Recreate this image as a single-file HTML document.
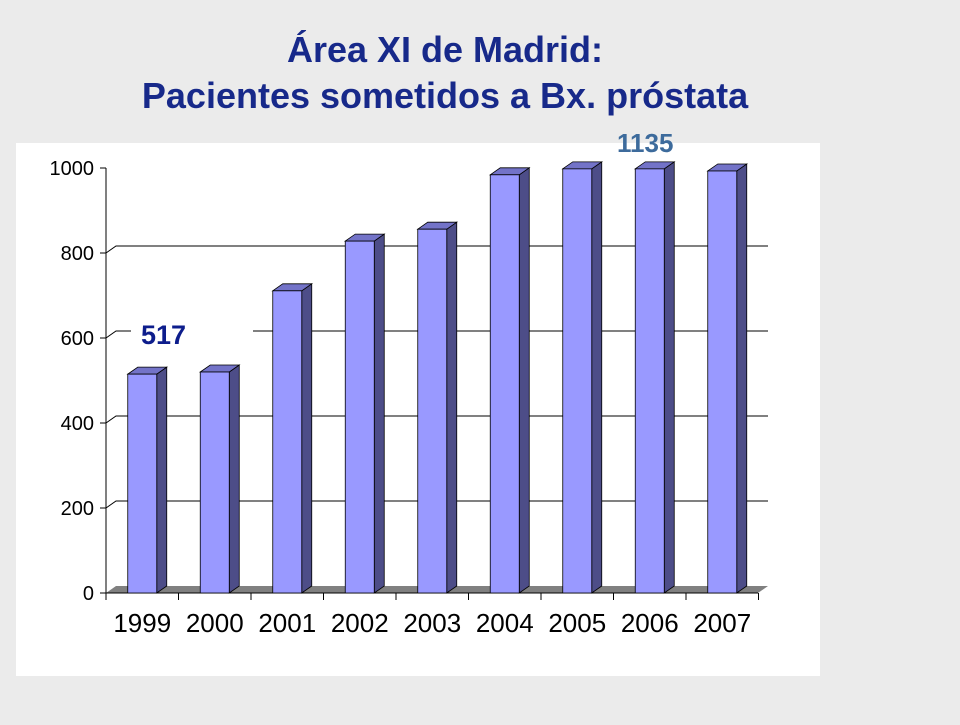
<!DOCTYPE html>
<html><head><meta charset="utf-8"><style>
body{margin:0;background:#ebebeb;width:960px;height:720px;overflow:hidden;font-family:"Liberation Sans",sans-serif}
</style></head><body>
<svg width="960" height="720">
<rect x="0" y="0" width="960" height="720" fill="#ebebeb"/>
<text x="445" y="62" text-anchor="middle" font-size="36" font-weight="bold" fill="#17298a">Área XI de Madrid:</text>
<text x="445" y="108" text-anchor="middle" font-size="36" font-weight="bold" fill="#17298a">Pacientes sometidos a Bx. próstata</text>
<rect x="16" y="143" width="804" height="533" fill="#fff"/>
<g id="g"></g>
<rect x="131" y="314" width="122" height="44" fill="#fff"/>
<text x="141" y="344" font-size="27" font-weight="bold" fill="#0d1d8c">517</text>
<text x="617" y="152" font-size="26" font-weight="bold" fill="#3d6b9c">1135</text>
</svg>
<script>
const categories=["1999","2000","2001","2002","2003","2004","2005","2006","2007"];
const values=[515,520,711,828,856,984,998,998,993];
const yTicks=[0,200,400,600,800,1000];
const ns="http://www.w3.org/2000/svg";
const g=document.getElementById('g');
const X0=106,STEP=72.5,Y0=593,K=0.425,DX=10,DY=7,BW=29;
const y=v=>Y0-v*K;
const cx=i=>X0+STEP*(i+0.5);
function mk(t,a){const e=document.createElementNS(ns,t);for(const k in a)e.setAttribute(k,a[k]);g.appendChild(e);return e;}
yTicks.forEach(v=>{
 if(v>0&&v<1000){const l=mk('polyline',{points:`${X0},${y(v)} ${X0+DX},${y(v)-DY} 768,${y(v)-DY}`,fill:'none',stroke:'#000','stroke-width':1});
 
 }
 const t=mk('line',{x1:X0-6,y1:y(v),x2:X0,y2:y(v),stroke:'#000'});
 
 
 const tx=mk('text',{x:X0-12,y:y(v)+7,'text-anchor':'end','font-size':20,fill:'#000'});tx.textContent=v;
 
 
});
const fl=mk('polygon',{points:`${X0},${Y0} ${X0+DX},${Y0-DY} ${768},${Y0-DY} ${758},${Y0}`,fill:'#808080'});


const ax=mk('line',{x1:X0,y1:y(1000),x2:X0,y2:Y0,stroke:'#000'});


const xa=mk('line',{x1:X0,y1:Y0,x2:758,y2:Y0,stroke:'#000'});


for(let i=0;i<=categories.length;i++){const t=mk('line',{x1:X0+STEP*i,y1:Y0,x2:X0+STEP*i,y2:Y0+7,stroke:'#000'});
 
 }
categories.forEach((c,i)=>{
 const l=cx(i)-BW/2,r=l+BW,top=y(values[i]);
 const s=mk('polygon',{points:`${r},${top} ${r+DX},${top-DY} ${r+DX},${Y0-DY} ${r},${Y0}`,fill:'#4d4d88',stroke:'#000','stroke-width':0.8});
 
 
 const tp=mk('polygon',{points:`${l},${top} ${l+DX},${top-DY} ${r+DX},${top-DY} ${r},${top}`,fill:'#7373c8',stroke:'#000','stroke-width':0.8});
 
 
 const f=mk('rect',{x:l,y:top,width:BW,height:Y0-top,fill:'#9999ff',stroke:'#000','stroke-width':0.8});
 
 
 const t=mk('text',{x:cx(i),y:632,'text-anchor':'middle','font-size':26,fill:'#000'});t.textContent=c;
 
 
});
</script>
</body></html>
